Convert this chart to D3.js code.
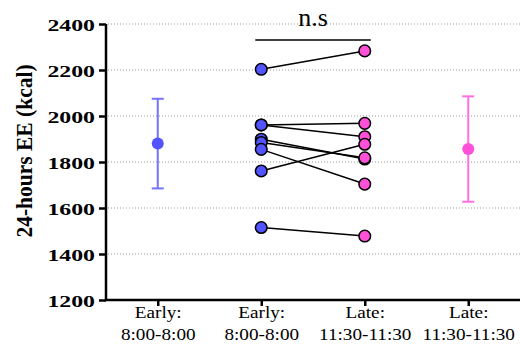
<!DOCTYPE html>
<html>
<head>
<meta charset="utf-8">
<script src="https://cdn.jsdelivr.net/npm/d3@7"></script>
<style>
  body { margin: 0; background: #fff; }
  svg { display: block; }
</style>
</head>
<body>
<div id="chart"></div>
<script>
const width = 520
const height = 361

// groups on the x axis (line 1 / line 2 of each label)
const groupTop = ["Early:", "Early:", "Late:", "Late:"]
const groupBottom = ["8:00-8:00", "8:00-8:00", "11:30-11:30", "11:30-11:30"]
const groupIds = ["earlyMean", "early", "late", "lateMean"]

// 24h energy expenditure per subject, same order in both conditions
const earlyEE = [2203, 1961, 1961, 1899, 1885, 1855, 1761, 1515]
const lateEE = [2283, 1968, 1910, 1813, 1818, 1704, 1877, 1478]

const yTicks = [1200, 1400, 1600, 1800, 2000, 2200, 2400]

const blue = "#5353ff"
const pink = "#ff50da"

const x = d3.scalePoint().domain(groupIds).range([106, 520]).padding(0.5)
const y = d3.scaleLinear().domain([1200, 2400]).range([300, 24])

const svg = d3
  .select("#chart")
  .append("svg")
  .attr("width", width)
  .attr("height", height)
  .style("font-family", "'Liberation Serif', 'Times New Roman', serif")

// dotted grid
svg
  .append("g")
  .selectAll("line")
  .data(yTicks.filter((d) => d > 1200))
  .join("line")
  .attr("x1", 108)
  .attr("x2", width)
  .attr("y1", (d) => y(d))
  .attr("y2", (d) => y(d))
  .attr("stroke", "#999")
  .attr("stroke-width", 1)
  .attr("stroke-dasharray", "1,2")

// y axis
const yAxis = svg
  .append("g")
  .attr("transform", "translate(106,0)")
  .call(d3.axisLeft(y).tickValues(yTicks).tickSize(7).tickFormat(d3.format("d")))
yAxis.attr("font-family", null)
yAxis.select(".domain").attr("stroke", "#000").attr("stroke-width", 2.5).attr("d", "M0,24V300")
yAxis.selectAll(".tick line").attr("stroke", "#000").attr("stroke-width", 2.5)
yAxis
  .selectAll(".tick text")
  .attr("x", 0)
  .attr("dy", "0.36em")
  .attr("transform", "translate(-11,0) scale(1.36,1)")
  .attr("fill", "#000")
  .style("font-size", "17.5px")
  .style("font-weight", "bold")
  .style("font-family", "'Liberation Serif', serif")

// x axis
const xAxis = svg
  .append("g")
  .attr("transform", "translate(0,300)")
  .call(d3.axisBottom(x).tickSize(6).tickFormat(""))
xAxis.attr("font-family", null)
xAxis.select(".domain").attr("stroke", "#000").attr("stroke-width", 2.5).attr("d", "M104.75,0H520")
xAxis.selectAll(".tick line").attr("stroke", "#000").attr("stroke-width", 2.5)
xAxis.selectAll(".tick text").remove()
xAxis
  .selectAll(".tick")
  .append("text")
  .attr("transform", "scale(1.13,1)")
  .attr("text-anchor", "middle")
  .attr("fill", "#000")
  .style("font-size", "17px")
  .style("font-family", "'Liberation Serif', serif")
  .each(function (d, i) {
    const t = d3.select(this)
    t.append("tspan").attr("x", 0).attr("y", 18).text(groupTop[i])
    t.append("tspan").attr("x", 0).attr("y", 40).text(groupBottom[i])
  })

// y label
svg
  .append("text")
  .attr("transform", "translate(32,151) rotate(-90) scale(1,1.12)")
  .attr("text-anchor", "middle")
  .style("font-size", "21.5px")
  .style("font-weight", "bold")
  .text("24-hours EE (kcal)")

// mean +- SD columns
const summaries = [
  { id: "earlyMean", values: earlyEE, color: blue, bar: "#7373ff" },
  { id: "lateMean", values: lateEE, color: pink, bar: "#ff6fe0" },
].map((s) => ({ ...s, mean: d3.mean(s.values), sd: d3.deviation(s.values) }))

const sumG = svg.append("g").selectAll("g").data(summaries).join("g")
sumG
  .append("line")
  .attr("x1", (d) => x(d.id))
  .attr("x2", (d) => x(d.id))
  .attr("y1", (d) => y(d.mean + d.sd))
  .attr("y2", (d) => y(d.mean - d.sd))
  .attr("stroke", (d) => d.bar)
  .attr("stroke-width", 2)
sumG
  .selectAll(".cap")
  .data((d) => [
    { id: d.id, v: d.mean + d.sd, c: d.bar },
    { id: d.id, v: d.mean - d.sd, c: d.bar },
  ])
  .join("line")
  .attr("class", "cap")
  .attr("x1", (d) => x(d.id) - 6)
  .attr("x2", (d) => x(d.id) + 6)
  .attr("y1", (d) => y(d.v))
  .attr("y2", (d) => y(d.v))
  .attr("stroke", (d) => d.c)
  .attr("stroke-width", 2)
sumG
  .append("circle")
  .attr("cx", (d) => x(d.id))
  .attr("cy", (d) => y(d.mean))
  .attr("r", 6)
  .attr("fill", (d) => d.color)

// paired lines
const pairs = earlyEE.map((v, i) => ({ early: v, late: lateEE[i] }))
svg
  .append("g")
  .selectAll("line")
  .data(pairs)
  .join("line")
  .attr("x1", x("early"))
  .attr("x2", x("late"))
  .attr("y1", (d) => y(d.early))
  .attr("y2", (d) => y(d.late))
  .attr("stroke", "#000")
  .attr("stroke-width", 1.5)

const dots = svg.append("g").attr("stroke", "#000").attr("stroke-width", 1.5)
dots
  .selectAll(".e")
  .data(earlyEE)
  .join("circle")
  .attr("class", "e")
  .attr("cx", x("early"))
  .attr("cy", (d) => y(d))
  .attr("r", 5.8)
  .attr("fill", blue)
dots
  .selectAll(".l")
  .data(lateEE)
  .join("circle")
  .attr("class", "l")
  .attr("cx", x("late"))
  .attr("cy", (d) => y(d))
  .attr("r", 5.8)
  .attr("fill", pink)

// significance bracket
svg
  .append("line")
  .attr("x1", x("early") - 6)
  .attr("x2", x("late") + 6)
  .attr("y1", 40)
  .attr("y2", 40)
  .attr("stroke", "#000")
  .attr("stroke-width", 1.5)
svg
  .append("text")
  .attr("x", (x("early") + x("late")) / 2)
  .attr("y", 26)
  .attr("text-anchor", "middle")
  .style("font-size", "26px")
  .text("n.s")
</script>
</body>
</html>
